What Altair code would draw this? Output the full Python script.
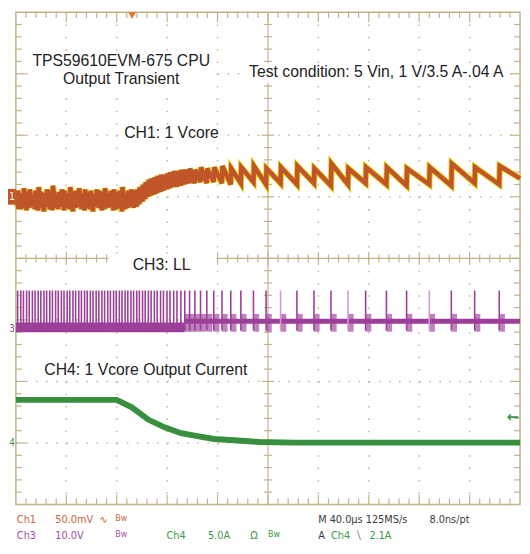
import altair as alt
import pandas as pd

# ---------------- scope set-up ----------------
US_PER_DIV = 40.0          # time base (M 40.0 us)
N_XDIV, N_YDIV = 10, 8
CH1_MV_PER_DIV, CH1_ZERO_DIV = 50.0, 5.0
CH3_V_PER_DIV, CH3_ZERO_DIV = 10.0, 2.857
CH4_A_PER_DIV, CH4_ZERO_DIV = 5.0, 1.0
TRIG_T_US, TRIG_A = 92.2, 2.1

# ---------------- data ----------------
# LL switching pulse times (us)
pulse_t = [1.4, 3.9, 6.0, 8.5, 10.6, 13.1, 15.2, 17.7, 19.8, 22.3, 24.4, 26.9, 29.0, 31.5,
           33.6, 36.1, 38.2, 40.7, 42.8, 45.3, 47.4, 49.9, 52.0, 54.5, 56.6, 59.1, 61.2, 63.7,
           65.8, 68.3, 70.4, 72.9, 75.0, 77.5, 79.6, 82.1, 84.2, 86.7, 88.8, 91.3,
           93.4, 95.9, 98.0, 100.5, 102.6, 105.1, 107.3, 109.9, 112.1, 114.8, 117.1, 119.9,
           122.3, 125.2, 127.8, 130.9,
           134.0, 137.8, 142.0, 146.5, 151.5, 157.0, 163.5, 170.5, 178.5, 188.5, 198.5, 210.0,
           223.0, 236.5, 250.0, 263.5, 277.5, 294.0, 310.0, 328.0, 345.5, 364.0, 383.5]
# CH1 (mV, AC) just before each pulse, and just after it
ch1_trough_mv = [-8, -10, -9, -11, -9, -8, -10, -11, -9, -12, -8, -10, -11, -9, -10, -8,
                 -11, -9, -10, -12, -9, -8, -10, -11, -9, -10, -12, -8, -9, -11, -10, -9,
                 -8, -11, -10, -9, -12, -10, -9, -8,
                 -9, -8, -6, -4, -2, 0, 1, 2, 3, 4, 5, 6, 7, 8, 8, 9,
                 10, 11, 11, 12, 11, 12, 11, 10, 11, 12, 10, 11, 10, 11, 9, 10, 11, 10, 9, 10,
                 9, 11, 10]
ch1_peak_mv = [5, 3, 7, 4, 6, 2, 5, 8, 4, 3, 6, 5, 9, 2, 4, 6, 5, 3, 8, 4, 5, 7, 3, 6, 4, 5,
               2, 6, 5, 4, 7, 3, 5, 6, 4, 5, 8, 3, 5, 6,
               5, 6, 8, 10, 12, 14, 15, 16, 17, 18, 18, 19, 20, 21, 21, 22,
               22, 23, 22, 24, 23, 24, 25, 23, 24, 25, 23, 24, 25, 23, 27, 23, 24, 24, 23, 24,
               27, 24, 25]
ch1_end_mv = 15
# CH3 (V)
ch3_pulse_top_v = 6.2
ch3_band_start = [0, 134]
ch3_band_end = [134, 400]
ch3_band_lo_v = [-0.6, 0.8]
ch3_band_hi_v = [1.0, 1.6]
ch3_light_pulses = [210.0, 263.5, 328.0]
# CH4 (A)
ch4_t = [0, 80, 92, 105, 118, 131, 144, 157, 170, 193, 220, 400]
ch4_a = [3.5, 3.5, 2.9, 1.9, 1.27, 0.79, 0.56, 0.32, 0.24, 0.08, 0.03, 0.03]

# ---------------- geometry helpers ----------------
W, H = 512, 500
T_MAX = US_PER_DIV * N_XDIV
PXX = W / T_MAX          # px per us
PXY = H / N_YDIV         # px per div
TAN = "#c2b28b"
DOT = "#c9bc9a"
ORANGE, YELLOW = "#c0552a", "#e8d000"
PURPLE, GREEN = "#9c3f98", "#36903e"

xs = alt.Scale(domain=[0, T_MAX], nice=False, zero=False)
ys = alt.Scale(domain=[0, N_YDIV], nice=False, zero=False)


def X(f="x"):
    return alt.X(f"{f}:Q", scale=xs, axis=None)


def Y(f="y"):
    return alt.Y(f"{f}:Q", scale=ys, axis=None)


def ref_x(px):   # page px -> us
    return (px - 16) / PXX


def page_y(py):  # page px -> div (exact placement for texts)
    return (508 - py) / PXY


# ---------------- graticule ----------------
grid_v = pd.DataFrame(dict(x=[k * US_PER_DIV for k in range(1, N_XDIV) if k != 5]))
grid_v["y"], grid_v["y2"] = N_YDIV, 0
grid_h = pd.DataFrame(dict(y=[k for k in range(1, N_YDIV) if k != 4]))
grid_h["x"], grid_h["x2"] = 0, T_MAX

solid = []
solid.append(dict(x=T_MAX / 2, x2=T_MAX / 2, y=0, y2=N_YDIV))
solid.append(dict(x=0, x2=T_MAX, y=N_YDIV / 2, y2=N_YDIV / 2))
for i in range(1, N_XDIV * 5):
    t = i * US_PER_DIV / 5
    major = i % 5 == 0
    L = (10 if major else 6) / PXY
    solid.append(dict(x=t, x2=t, y=N_YDIV, y2=N_YDIV - L))
    solid.append(dict(x=t, x2=t, y=0, y2=L))
    c = (6.5 if major else 4) / PXY
    solid.append(dict(x=t, x2=t, y=N_YDIV / 2 - c, y2=N_YDIV / 2 + c))
for j in range(1, N_YDIV * 5):
    v = j / 5
    major = j % 5 == 0
    L = (10 if major else 6) / PXX
    solid.append(dict(x=0, x2=L, y=v, y2=v))
    solid.append(dict(x=T_MAX, x2=T_MAX - L, y=v, y2=v))
    c = (6.5 if major else 4) / PXX
    solid.append(dict(x=T_MAX / 2 - c, x2=T_MAX / 2 + c, y=v, y2=v))
solid = pd.DataFrame(solid)

g_v = alt.Chart(grid_v).mark_rule(color=DOT, strokeWidth=1.6, strokeDash=[1.6, 10.9]).encode(
    x=X(), y=Y(), y2="y2:Q")
g_h = alt.Chart(grid_h).mark_rule(color=DOT, strokeWidth=1.6, strokeDash=[1.6, 8.64]).encode(
    x=X(), x2="x2:Q", y=Y())
g_s = alt.Chart(solid).mark_rule(color=TAN, strokeWidth=1.2).encode(
    x=X(), x2="x2:Q", y=Y(), y2="y2:Q")

# ---------------- white boxes behind labels ----------------
boxes = pd.DataFrame(dict(
    x=[ref_x(30), ref_x(250), ref_x(124), ref_x(110), ref_x(40)],
    x2=[ref_x(218), ref_x(515), ref_x(224), ref_x(220), ref_x(258)],
    y=[page_y(49), page_y(60), page_y(123), page_y(253), page_y(362)],
    y2=[page_y(86), page_y(80), page_y(142), page_y(286), page_y(380)],
))
box_layer = alt.Chart(boxes).mark_rect(color="white").encode(
    x=X(), x2="x2:Q", y=Y(), y2="y2:Q")

# ---------------- CH4 current ----------------
ch4 = pd.DataFrame(dict(x=ch4_t, y=[CH4_ZERO_DIV + a / CH4_A_PER_DIV for a in ch4_a]))
ch4_layer = alt.Chart(ch4).mark_line(color=GREEN, strokeWidth=6).encode(x=X(), y=Y())

# ---------------- CH3 LL node ----------------
band = pd.DataFrame(dict(
    x=ch3_band_start, x2=ch3_band_end,
    y=[CH3_ZERO_DIV + v / CH3_V_PER_DIV for v in ch3_band_lo_v],
    y2=[CH3_ZERO_DIV + v / CH3_V_PER_DIV for v in ch3_band_hi_v]))
band_layer = alt.Chart(band).mark_rect(color=PURPLE).encode(x=X(), x2="x2:Q", y=Y(), y2="y2:Q")

pul = pd.DataFrame(dict(
    x=pulse_t,
    y=[CH3_ZERO_DIV + (-0.3) / CH3_V_PER_DIV] * len(pulse_t),
    y2=[CH3_ZERO_DIV + ch3_pulse_top_v / CH3_V_PER_DIV] * len(pulse_t),
    c=["#d49bd0" if t in ch3_light_pulses else PURPLE for t in pulse_t]))
pul_layer = alt.Chart(pul).mark_rule(strokeWidth=1.6).encode(
    x=X(), y=Y(), y2="y2:Q", color=alt.Color("c:N", scale=None))

ring_t = [t for t in pulse_t if t >= 134]
ring = pd.DataFrame(dict(
    x=ring_t, x2=[t + 4.5 for t in ring_t],
    y=[CH3_ZERO_DIV + (-0.5) / CH3_V_PER_DIV] * len(ring_t),
    y2=[CH3_ZERO_DIV + 2.4 / CH3_V_PER_DIV] * len(ring_t)))
ring_layer = alt.Chart(ring).mark_rect(color=PURPLE, opacity=0.65).encode(
    x=X(), x2="x2:Q", y=Y(), y2="y2:Q")

# ---------------- CH1 Vcore ----------------
pts = [(0.0, ch1_trough_mv[0])]
for t, lo, hi in zip(pulse_t, ch1_trough_mv, ch1_peak_mv):
    pts.append((t, lo))
    pts.append((t + 0.35, hi))
pts.append((T_MAX, ch1_end_mv))
ch1 = pd.DataFrame(dict(x=[p[0] for p in pts],
                        y=[CH1_ZERO_DIV + p[1] / CH1_MV_PER_DIV for p in pts],
                        o=list(range(len(pts)))))
ch1_yellow = alt.Chart(ch1).mark_line(color=YELLOW, strokeWidth=6.4, opacity=0.9).encode(
    x=X(), y=Y(), order="o:Q")
ch1_orange = alt.Chart(ch1).mark_line(color=ORANGE, strokeWidth=4.6).encode(
    x=X(), y=Y(), order="o:Q")

# ---------------- labels ----------------
labels = pd.DataFrame(dict(
    t=["TPS59610EVM-675 CPU", "Output Transient", "Test condition: 5 Vin, 1 V/3.5 A-.04 A",
       "CH1: 1 Vcore", "CH3: LL", "CH4: 1 Vcore Output Current"],
    x=[ref_x(123), ref_x(123), ref_x(382), ref_x(174), ref_x(164), ref_x(148)],
    y=[page_y(58), page_y(76), page_y(69), page_y(131), page_y(265), page_y(371)]))
label_layer = alt.Chart(labels).mark_text(
    font="Liberation Sans, Arial, sans-serif", fontSize=16, color="#222222",
    align="center", baseline="middle").encode(x=X(), y=Y(), text="t:N")

FOOT_FONT = "Liberation Sans Narrow, DejaVu Sans Condensed, Arial Narrow, sans-serif"
C1, C3, C4, CK = "#c9653c", "#a24ea1", "#3c9a46", "#3a3a3a"
foot = pd.DataFrame(dict(
    t=["Ch1", "50.0mV", "\u223f", "M 40.0\u00b5s 125MS/s", "8.0ns/pt",
       "Ch3", "10.0V", "Ch4", "5.0A", "\u03a9", "A", "Ch4", "\u29f9", "2.1A"],
    x=[ref_x(17), ref_x(56), ref_x(101), ref_x(323), ref_x(436),
       ref_x(17), ref_x(56), ref_x(169), ref_x(211), ref_x(254), ref_x(323), ref_x(336),
       ref_x(362), ref_x(375)],
    y=[page_y(524)] * 5 + [page_y(540)] * 9,
    c=[C1, C1, C1, CK, CK, C3, C3, C4, C4, C4, CK, C4, CK, C4]))
foot_layer = alt.Chart(foot).mark_text(
    font=FOOT_FONT, fontSize=11, align="left", baseline="middle").encode(
    x=X(), y=Y(), text="t:N", color=alt.Color("c:N", scale=None))

bw = pd.DataFrame(dict(
    t=["Bw", "Bw", "Bw"],
    x=[ref_x(117), ref_x(117), ref_x(272)],
    y=[page_y(522), page_y(538), page_y(538)],
    c=[C1, C3, C4]))
bw_layer = alt.Chart(bw).mark_text(
    font=FOOT_FONT, fontSize=9, align="left", baseline="middle").encode(
    x=X(), y=Y(), text="t:N", color=alt.Color("c:N", scale=None))

# ---------------- channel / trigger markers ----------------
mk_box = pd.DataFrame(dict(x=[ref_x(8)], x2=[ref_x(16)],
                           y=[CH1_ZERO_DIV - 8 / PXY], y2=[CH1_ZERO_DIV + 8 / PXY]))
mk_box_layer = alt.Chart(mk_box).mark_rect(color=ORANGE).encode(x=X(), x2="x2:Q", y=Y(), y2="y2:Q")
mk = pd.DataFrame(dict(
    t=["1", "3", "4"],
    x=[ref_x(12), ref_x(12), ref_x(12)],
    y=[CH1_ZERO_DIV, CH3_ZERO_DIV, CH4_ZERO_DIV],
    c=["white", PURPLE, C4]))
mk_layer = alt.Chart(mk).mark_text(
    font="DejaVu Sans Condensed, DejaVu Sans, sans-serif", fontSize=10, align="center",
    baseline="middle").encode(x=X(), y=Y(), text="t:N", color=alt.Color("c:N", scale=None))

trig = pd.DataFrame(dict(t=["\u2190"], x=[T_MAX - 1],
                         y=[CH4_ZERO_DIV + TRIG_A / CH4_A_PER_DIV]))
trig_layer = alt.Chart(trig).mark_text(
    font="DejaVu Sans, sans-serif", fontSize=15, fontWeight="bold", color=C4,
    align="right", baseline="middle").encode(x=X(), y=Y(), text="t:N")

tpos = pd.DataFrame(dict(x=[TRIG_T_US], y=[N_YDIV - 3.5 / PXY]))
tpos_layer = alt.Chart(tpos).mark_point(
    shape="triangle-down", filled=True, size=60, color="#e8752e", opacity=1).encode(x=X(), y=Y())

chart = alt.layer(
    g_v, g_h, g_s, box_layer,
    ch4_layer, band_layer, ring_layer, pul_layer, ch1_yellow, ch1_orange,
    label_layer, foot_layer, bw_layer, mk_box_layer, mk_layer, trig_layer, tpos_layer,
).properties(
    width=W, height=H,
    autosize=alt.AutoSizeParams(type="none"),
    padding={"left": 8, "top": 0, "right": 2, "bottom": 44},
    background="white",
).configure_view(stroke=TAN, strokeWidth=1.5)

chart.save("out.html", embed_options={"renderer": "svg", "actions": False})
